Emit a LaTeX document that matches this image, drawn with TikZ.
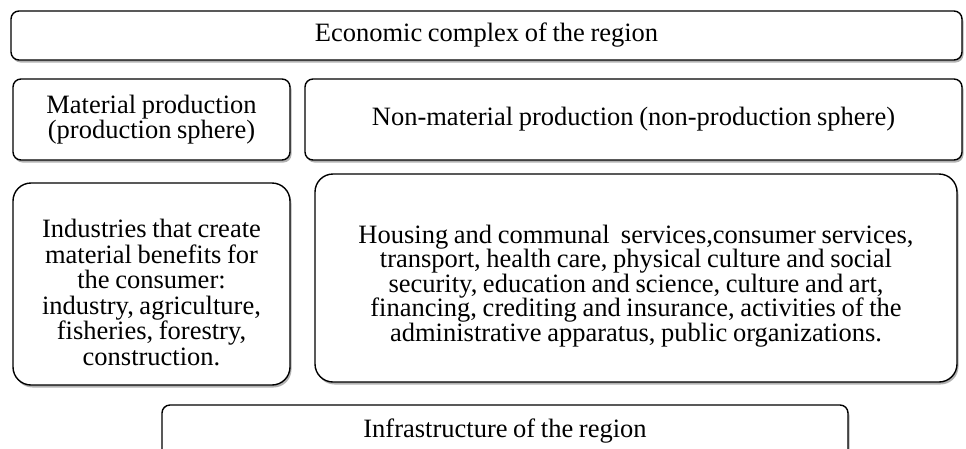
\documentclass[tikz,border=0pt]{standalone}
\usepackage{fontspec}
\setmainfont{Liberation Serif}[WordSpace=0.85]
\usetikzlibrary{shadows}
\begin{document}
\begin{tikzpicture}[x=1pt, y=-1pt,
        blk/.style={draw, line width=1.4pt, fill=white, rounded corners=8pt, align=center, inner sep=0pt,
            font=\fontsize{26.5}{24.5}\selectfont,
            drop shadow={shadow xshift=1.5pt, shadow yshift=-2.5pt, fill=gray!60, opacity=1}},
        bigblk/.style={blk, rounded corners=18pt}]
        \useasboundingbox (0, 0) rectangle (966, 448);
        \node [blk, minimum width=951pt, minimum height=49pt] (econ) at (486.5, 35.5) {Economic complex of the region};
        \node [blk, minimum width=277pt, minimum height=81pt] (matprod) at (151.5, 119.5) {Material production\\(production sphere)};
        \node [blk, minimum width=657pt, minimum height=81pt] (nonmat) at (633.5, 119.5) {Non-material production (non-production sphere)};
        \node [bigblk, minimum width=277pt, minimum height=202pt,
            font=\fontsize{26.5}{25.5}\selectfont] (industries) at (151.5, 284) {\rule{0pt}{35pt}Industries that create\\material benefits for\\the consumer:\\industry, agriculture,\\fisheries, forestry,\\construction.};
        \node [bigblk, minimum width=642pt, minimum height=208pt] (services) at (636, 278) {\rule{0pt}{34pt}Housing and communal\ \ services,consumer services,\\transport, health care, physical culture and social\\security, education and science, culture and art,\\financing, crediting and insurance, activities of the\\administrative apparatus, public organizations.};
        \node [blk, minimum width=686pt, minimum height=52pt] (infra) at (505, 431) {Infrastructure of the region};
    \end{tikzpicture}
\end{document}
